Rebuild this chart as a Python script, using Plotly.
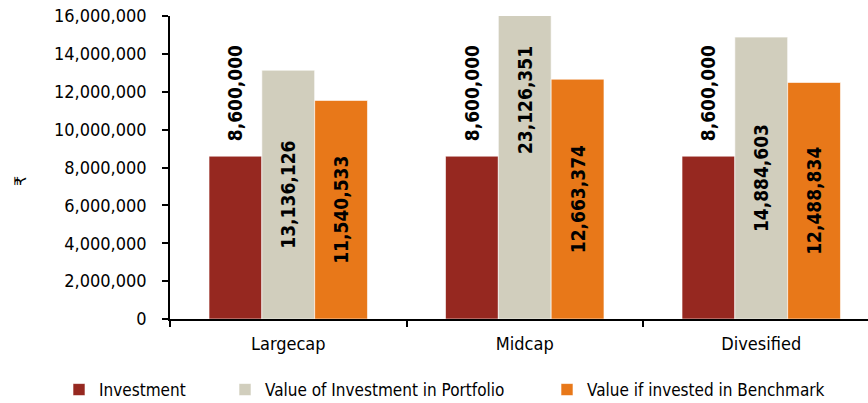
import plotly.graph_objects as go

categories = ["Largecap", "Midcap", "Divesified"]
investment = [8600000, 8600000, 8600000]
portfolio = [13136126, 23126351, 14884603]
benchmark = [11540533, 12663374, 12488834]
series_names = ["Investment", "Value of Investment in Portfolio", "Value if invested in Benchmark"]
y_ticks = [0, 2000000, 4000000, 6000000, 8000000, 10000000, 12000000, 14000000, 16000000]

W, H = 868, 403
ML, MR, MT, MB = 170, 0, 16, 84
PW, PH = W - ML - MR, H - MT - MB

def px_x(p):
    return (p - ML) / PW

def px_y(p):
    return (H - MB - p) / PH

FONT = "DejaVu Sans Condensed, DejaVu Sans, sans-serif"
colors = ["#962820", "#D1CEBD", "#E87819"]

fig = go.Figure()
vals = [investment, portfolio, benchmark]
positions = ["outside", "inside", "inside"]
templates = ["\u00a0\u00a0%{y:,d}", "%{y:,d}", "%{y:,d}"]
legends = ["legend", "legend2", "legend3"]
for name, v, c, pos, tt, lg in zip(series_names, vals, colors, positions, templates, legends):
    fig.add_trace(go.Bar(
        x=categories, y=v, name=name,
        marker=dict(color=c, line=dict(color="rgba(255,255,255,0.6)", width=1)),
        texttemplate=tt, textposition=pos, insidetextanchor="middle",
        textangle=-90, constraintext="none",
        textfont=dict(family=FONT, size=19, color="black", weight="bold"),
        legend=lg, showlegend=True,
    ))

leg_common = dict(orientation="h", xanchor="left", yanchor="middle",
                  font=dict(family=FONT, size=17, color="black"),
                  bgcolor="rgba(0,0,0,0)", borderwidth=0, itemwidth=30)
fig.update_layout(
    width=W, height=H,
    margin=dict(l=ML, r=MR, t=MT, b=MB, pad=0, autoexpand=False),
    paper_bgcolor="white", plot_bgcolor="white",
    barmode="group", bargap=0.33, bargroupgap=0,
    font=dict(family=FONT, color="black"),
    legend=dict(x=px_x(59), y=px_y(390), **leg_common),
    legend2=dict(x=px_x(225), y=px_y(390), **leg_common),
    legend3=dict(x=px_x(547), y=px_y(390), **leg_common),
    xaxis=dict(range=[-0.5, -0.5 + PW / 236.5], showline=True, linecolor="black", linewidth=1.5,
               ticks="outside", ticklen=6, tickcolor="black", tickwidth=1.5,
               tickson="boundaries", showgrid=False, zeroline=False, ticklabelstandoff=8,
               tickfont=dict(family=FONT, size=18, color="black")),
    yaxis=dict(range=[0, 16000000], tickvals=y_ticks, tickformat=",d",
               showline=True, linecolor="black", linewidth=1.5,
               ticks="outside", ticklen=6, tickcolor="black", tickwidth=1.5,
               ticklabelstandoff=12, showgrid=False, zeroline=False,
               tickfont=dict(family=FONT, size=18, color="black")),
    annotations=[dict(text="₹", x=px_x(20), y=px_y(181), xref="paper", yref="paper",
                      xanchor="center", yanchor="middle",
                      showarrow=False, textangle=-90,
                      font=dict(family="DejaVu Sans", size=16, color="black"))],
)

fig.write_html("out.html", config={"displayModeBar": False},
               post_script="document.body.style.margin='0';document.body.style.overflow='hidden';")
